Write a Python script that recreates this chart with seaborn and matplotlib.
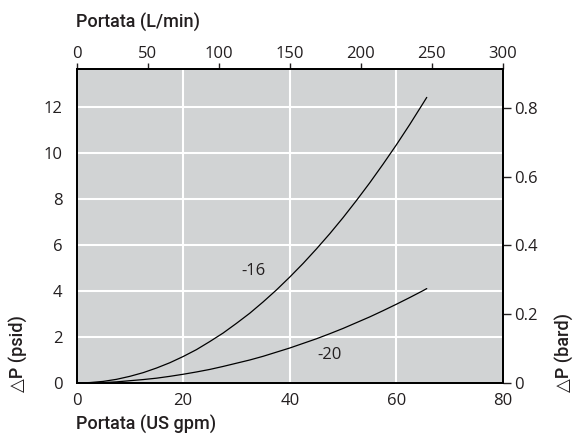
import numpy as np
import pandas as pd
import seaborn as sns
import matplotlib.pyplot as plt

# flow (US gpm) and pressure drop (psid)
flow_gpm = [0, 2.5, 5, 7.5, 10, 12.5, 15, 17.5, 20, 22.5, 25, 27.5, 30, 32.5,
            35, 37.5, 40, 42.5, 45, 47.5, 50, 52.5, 55, 57.5, 60, 62.5, 65, 65.7]
dp_16 = [0, 0.02, 0.07, 0.16, 0.29, 0.45, 0.65, 0.88, 1.15, 1.45, 1.8, 2.17,
         2.59, 3.03, 3.52, 4.04, 4.6, 5.19, 5.82, 6.48, 7.18, 7.92, 8.69,
         9.5, 10.34, 11.22, 12.14, 12.4]
dp_20 = [0, 0.01, 0.02, 0.05, 0.1, 0.15, 0.21, 0.29, 0.38, 0.48, 0.59, 0.72,
         0.86, 1.0, 1.16, 1.34, 1.52, 1.72, 1.92, 2.14, 2.37, 2.62, 2.87,
         3.14, 3.42, 3.71, 4.01, 4.1]

lmin_ticks = [0, 50, 100, 150, 200, 250, 300]
bar_ticks = [0, 0.2, 0.4, 0.6, 0.8]
bar_labels = ['0', '0.2', '0.4', '0.6', '0.8']

df = pd.DataFrame({
    'flow': flow_gpm * 2,
    'dp': dp_16 + dp_20,
    'size': ['-16'] * len(flow_gpm) + ['-20'] * len(flow_gpm),
})

sns.set_style('white', {'axes.facecolor': '#d1d3d4'})
plt.rcParams['font.family'] = ['Open Sans', 'DejaVu Sans']
txt = '#231f20'

fig, ax = plt.subplots(figsize=(5.78, 4.4), dpi=100)
fig.subplots_adjust(left=0.1324, right=0.8702, top=0.8425, bottom=0.1295)

sns.lineplot(data=df, x='flow', y='dp', units='size', estimator=None,
             color='black', lw=0.9, ax=ax, legend=False)

ax.set_xlim(0, 80)
ax.set_ylim(0, 13.62)
ax.set_xticks([0, 20, 40, 60, 80])
ax.set_yticks([0, 2, 4, 6, 8, 10, 12])
ax.grid(True, color='white', lw=1.5)
ax.set_axisbelow(True)
ax.tick_params(axis='both', length=0, labelsize=12, labelcolor=txt)
ax.tick_params(axis='x', pad=7)
ax.tick_params(axis='y', pad=10)
ax.set_xlabel('')
ax.set_ylabel('')
for s in ax.spines.values():
    s.set_color('black')
    s.set_linewidth(1.2)

ax.text(33.2, 4.88, '-16', fontsize=12, color=txt, ha='center', va='center')
ax.text(47.4, 1.2, '-20', fontsize=12, color=txt, ha='center', va='center')

# top axis in L/min
axt = ax.twiny()
axt.set_xlim(0, 300)
axt.set_xticks(lmin_ticks)
axt.tick_params(axis='x', direction='out', length=4.5, width=1, color=txt,
                labelsize=12, labelcolor=txt, pad=0.5)
axt.patch.set_visible(False)

# right axis in bar
axr = ax.twinx()
axr.set_ylim(0, 0.912)
axr.set_yticks(bar_ticks)
axr.set_yticklabels(bar_labels)
axr.tick_params(axis='y', direction='out', length=6, width=1, color=txt,
                labelsize=12, labelcolor=txt, pad=2)
axr.patch.set_visible(False)
for a in (axt, axr):
    for s in a.spines.values():
        s.set_color('black')
        s.set_linewidth(1.2)

lab = dict(fontsize=13, color=txt, family=['Roboto', 'DejaVu Sans'], fontweight='medium')
fig.text(76 / 578, 1 - 23 / 440, 'Portata (L/min)', ha='left', va='center', **lab)
fig.text(76 / 578, 1 - 424 / 440, 'Portata (US gpm)', ha='left', va='center', **lab)
fig.text(18 / 578, 1 - 392 / 440, '△P (psid)', rotation=90, ha='center', va='bottom', **lab)
fig.text(565 / 578, 1 - 392 / 440, '△P (bard)', rotation=90, ha='center', va='bottom', **lab)

plt.savefig('out.png', dpi=100)
